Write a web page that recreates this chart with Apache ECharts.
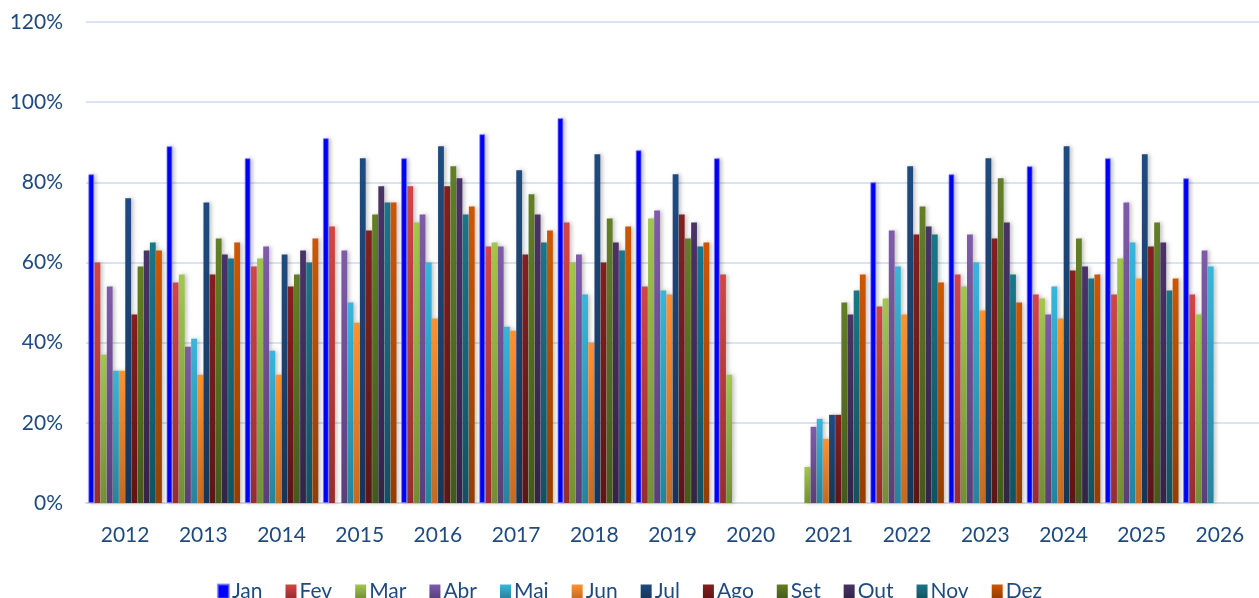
<!DOCTYPE html>
<html>
<head>
<meta charset="utf-8">
<script src="https://cdn.jsdelivr.net/npm/echarts@6/dist/echarts.min.js"></script>
<style>
  html, body { margin: 0; padding: 0; background: #fff; }
  #chart { width: 1259px; height: 598px; }
</style>
</head>
<body>
<div id="chart"></div>
<script>
const years = ['2012', '2013', '2014', '2015', '2016', '2017', '2018', '2019', '2020', '2021', '2022', '2023', '2024', '2025', '2026'];
const months = ['Jan', 'Fev', 'Mar', 'Abr', 'Mai', 'Jun', 'Jul', 'Ago', 'Set', 'Out', 'Nov', 'Dez'];

// valores por mês (um valor por ano), null = sem dado
const jan = [82, 89, 86, 91, 86, 92, 96, 88, 86, null, 80, 82, 84, 86, 81];
const fev = [60, 55, 59, 69, 79, 64, 70, 54, 57, null, 49, 57, 52, 52, 52];
const mar = [37, 57, 61, null, 70, 65, 60, 71, 32, 9, 51, 54, 51, 61, 47];
const abr = [54, 39, 64, 63, 72, 64, 62, 73, null, 19, 68, 67, 47, 75, 63];
const mai = [33, 41, 38, 50, 60, 44, 52, 53, null, 21, 59, 60, 54, 65, 59];
const jun = [33, 32, 32, 45, 46, 43, 40, 52, null, 16, 47, 48, 46, 56, null];
const jul = [76, 75, 62, 86, 89, 83, 87, 82, null, 22, 84, 86, 89, 87, null];
const ago = [47, 57, 54, 68, 79, 62, 60, 72, null, 22, 67, 66, 58, 64, null];
const set = [59, 66, 57, 72, 84, 77, 71, 66, null, 50, 74, 81, 66, 70, null];
const out = [63, 62, 63, 79, 81, 72, 65, 70, null, 47, 69, 70, 59, 65, null];
const nov = [65, 61, 60, 75, 72, 65, 63, 64, null, 53, 67, 57, 56, 53, null];
const dez = [63, 65, 66, 75, 74, 68, 69, 65, null, 57, 55, 50, 57, 56, null];

const seriesData = [jan, fev, mar, abr, mai, jun, jul, ago, set, out, nov, dez];

// cor do topo e da base de cada barra
const topColors = ['#0000FF', '#D34545', '#A2C74C', '#7F5BAA', '#38B6DA', '#FF922E', '#1F4B80', '#861F1F', '#637F25', '#4A3367', '#1A7689', '#CF5600'];
const bottomColors = ['#0000FF', '#962D2D', '#738F35', '#5A3F7A', '#26839E', '#C66A20', '#163659', '#5E1515', '#455A1A', '#342448', '#115262', '#933D00'];

const labelColor = '#1F4A7E';

const chart = echarts.init(document.getElementById('chart'));

const series = months.map((m, i) => {
    const item = {
        name: m,
        type: 'bar',
        data: seriesData[i],
        barGap: '6%',
        barCategoryGap: '6%',
        itemStyle: {
            color: i === 0 ? topColors[0] : new echarts.graphic.LinearGradient(0, 0, 0, 1, [
                { offset: 0, color: topColors[i] },
                { offset: 1, color: bottomColors[i] }
            ]),
            shadowColor: 'rgba(0,0,0,0.25)',
            shadowBlur: 4,
            shadowOffsetX: 2
        }
    };
    if (i === 0) {
        item.itemStyle.borderColor = 'rgba(110,110,255,0.7)';
        item.itemStyle.borderWidth = 1;
    }
    return item;
});

const option = {
    animation: false,
    color: topColors,
    grid: {
        left: 86,
        right: 0,
        top: 22,
        bottom: 95
    },
    legend: {
        top: 576,
        left: 'center',
        itemWidth: 11,
        itemHeight: 14,
        itemGap: 23,
        icon: 'rect',
        textStyle: {
            color: labelColor,
            fontSize: 21,
            fontFamily: 'Lato',
            padding: [0, 0, 0, -2]
        },
        data: months
    },
    xAxis: {
        type: 'category',
        data: years,
        axisTick: { show: false },
        axisLine: {
            lineStyle: { color: '#D5DCE6', width: 2 }
        },
        axisLabel: {
            color: labelColor,
            fontSize: 21,
            fontFamily: 'Lato',
            margin: 22
        }
    },
    yAxis: {
        type: 'value',
        min: 0,
        max: 120,
        interval: 20,
        axisLine: { show: false },
        axisTick: { show: false },
        axisLabel: {
            color: labelColor,
            fontSize: 21,
            fontFamily: 'Lato',
            margin: 23,
            formatter: '{value}%'
        },
        splitLine: {
            lineStyle: { color: '#D9E3F1', width: 2 }
        }
    },
    series: series
};

chart.setOption(option);
</script>
</body>
</html>
